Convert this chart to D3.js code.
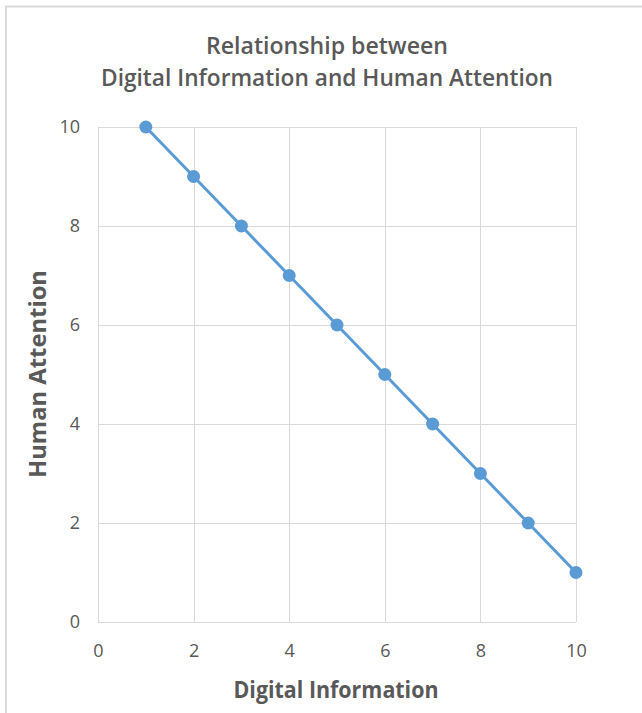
<!DOCTYPE html>
<html>
<head>
<meta charset="utf-8">
<script src="https://cdn.jsdelivr.net/npm/d3@7"></script>
<style>
  html, body { margin: 0; padding: 0; background: #fff; }
  svg { display: block; }
</style>
</head>
<body>
<script>
// Series: digital information (x) against human attention (y)
const digitalInformation = [1, 2, 3, 4, 5, 6, 7, 8, 9, 10];
const humanAttention = [10, 9, 8, 7, 6, 5, 4, 3, 2, 1];
const xTicks = [0, 2, 4, 6, 8, 10];
const yTicks = [0, 2, 4, 6, 8, 10];
const titleLines = ["Relationship between", "Digital Information and Human Attention"];
const xTitle = "Digital Information";
const yTitle = "Human Attention";

const W = 642, H = 713;
const plot = { left: 98, right: 576, top: 127, bottom: 622 };
const textColor = "#595959";
const gridColor = "#d9d9d9";
const seriesColor = "#5b9bd5";
const font = "'Open Sans', 'Noto Sans', sans-serif";

const svg = d3.select("body").append("svg")
  .attr("width", W).attr("height", H);

// Chart frame (top and left edges visible)
svg.append("path")
  .attr("d", `M6,${H} L6,6.5 L${W},6.5`)
  .attr("fill", "none").attr("stroke", gridColor).attr("stroke-width", 2);

const x = d3.scaleLinear().domain([0, 10]).range([plot.left, plot.right]);
const y = d3.scaleLinear().domain([0, 10]).range([plot.bottom, plot.top]);

// Gridlines
const grid = svg.append("g");
grid.selectAll("line.h").data(yTicks).join("line")
  .attr("x1", plot.left).attr("x2", plot.right)
  .attr("y1", d => Math.round(y(d)) + 0.5).attr("y2", d => Math.round(y(d)) + 0.5)
  .attr("stroke", gridColor).attr("stroke-width", 1);
grid.selectAll("line.v").data(xTicks).join("line")
  .attr("y1", plot.top).attr("y2", plot.bottom)
  .attr("x1", d => Math.round(x(d)) + 0.5).attr("x2", d => Math.round(x(d)) + 0.5)
  .attr("stroke", gridColor).attr("stroke-width", 1);

// Axes (labels only; lines are drawn by the grid)
const xAxis = svg.append("g")
  .attr("transform", `translate(0,${plot.bottom + 12})`)
  .call(d3.axisBottom(x).tickValues(xTicks).tickSize(0).tickPadding(10));
const yAxis = svg.append("g")
  .attr("transform", `translate(${plot.left - 8},0)`)
  .call(d3.axisLeft(y).tickValues(yTicks).tickSize(0).tickPadding(10));
[xAxis, yAxis].forEach(a => {
  a.select(".domain").remove();
  a.selectAll("text").attr("fill", textColor)
    .style("font-family", font).style("font-size", "18px");
});

// Line and markers
const pts = digitalInformation.map((d, i) => [d, humanAttention[i]]);
svg.append("path")
  .datum(pts)
  .attr("fill", "none").attr("stroke", seriesColor).attr("stroke-width", 3)
  .attr("stroke-linejoin", "round")
  .attr("d", d3.line().x(d => x(d[0])).y(d => y(d[1])));
svg.append("g").selectAll("circle").data(pts).join("circle")
  .attr("cx", d => x(d[0])).attr("cy", d => y(d[1]))
  .attr("r", 6.5).attr("fill", seriesColor);

// Title
const titleSpecs = [
  { text: titleLines[0], y: 54, width: 242 },
  { text: titleLines[1], y: 86, width: 452 }
];
svg.append("g").selectAll("text").data(titleSpecs).join("text")
  .attr("x", 327).attr("y", d => d.y)
  .attr("text-anchor", "middle")
  .attr("textLength", d => d.width).attr("lengthAdjust", "spacingAndGlyphs")
  .attr("fill", textColor)
  .style("font-family", font).style("font-size", "24px").style("font-weight", 600)
  .text(d => d.text);

// Axis titles
svg.append("text")
  .attr("x", 336).attr("y", 698)
  .attr("text-anchor", "middle")
  .attr("textLength", 205).attr("lengthAdjust", "spacingAndGlyphs")
  .attr("fill", textColor)
  .style("font-family", font).style("font-size", "24px").style("font-weight", 700)
  .text(xTitle);
svg.append("text")
  .attr("transform", "translate(46,374) rotate(-90)")
  .attr("text-anchor", "middle")
  .attr("textLength", 208).attr("lengthAdjust", "spacingAndGlyphs")
  .attr("fill", textColor)
  .style("font-family", font).style("font-size", "24px").style("font-weight", 700)
  .text(yTitle);
</script>
</body>
</html>
